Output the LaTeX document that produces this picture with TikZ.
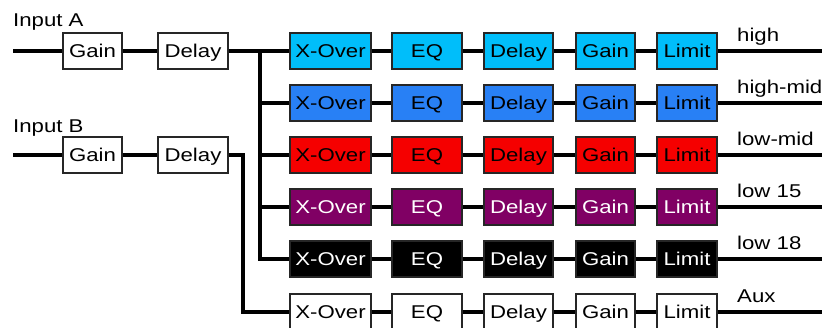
\documentclass[tikz,border=0pt]{standalone}
\usepackage{fontspec}
\setmainfont{Liberation Sans}[FakeStretch=1.2]
\definecolor{cA}{RGB}{0,190,250}
\definecolor{cB}{RGB}{40,128,245}
\definecolor{cC}{RGB}{245,0,0}
\definecolor{cD}{RGB}{128,0,100}
\definecolor{cE}{RGB}{0,0,0}
\definecolor{cF}{RGB}{255,255,255}
\begin{document}
\begin{tikzpicture}[x=1pt,y=-1pt,
  blk/.style={draw=black!85, line width=1.2pt, minimum height=36pt, inner sep=0pt,
    text height=13pt, text depth=0.5pt,
    font=\fontsize{18.5}{18.5}\selectfont},
  lbl/.style={anchor=base west, inner sep=0pt, font=\fontsize{18.5}{18.5}\selectfont},
  wire/.style={line width=3.2pt}]
\useasboundingbox (0,0) rectangle (835,328);
% inputs
\node[lbl] (la) at (13,27) {Input A};
\node[lbl] (lb) at (13,133) {Input B};
\coordinate (inA) at (13,51);
\coordinate (inB) at (13,155);
\node[blk, minimum width=59pt] (ga) at (92.5,51) {Gain};
\node[blk, minimum width=70pt] (da) at (193,51) {Delay};
\node[blk, minimum width=59pt] (gb) at (92.5,155) {Gain};
\node[blk, minimum width=70pt] (db) at (193,155) {Delay};
\draw[wire] (inA) -- (ga.west);
\draw[wire] (ga.east) -- (da.west);
\draw[wire] (inB) -- (gb.west);
\draw[wire] (gb.east) -- (db.west);
% rows
\foreach \i/\fc/\tc/\lab in {1/cA/black/high, 2/cB/black/high-mid, 3/cC/black/low-mid,
    4/cD/white/low 15, 5/cE/white/low 18, 6/cF/black/Aux}{
  \pgfmathsetmacro{\yy}{51+52*(\i-1)+(\i==6 ? 1 : 0)}
  \node[blk, fill=\fc, text=\tc, minimum width=81pt] (xo\i) at (330.5,\yy) {X-Over};
  \node[blk, fill=\fc, text=\tc, minimum width=70pt] (eq\i) at (427,\yy) {EQ};
  \node[blk, fill=\fc, text=\tc, minimum width=69pt] (de\i) at (518.5,\yy) {Delay};
  \node[blk, fill=\fc, text=\tc, minimum width=59pt] (gn\i) at (605.5,\yy) {Gain};
  \node[blk, fill=\fc, text=\tc, minimum width=60pt] (li\i) at (687,\yy) {Limit};
  \coordinate (out\i) at (822,\yy);
  \node[lbl] (ol\i) at (737,\yy-9) {\lab};
  \draw[wire] (xo\i.east) -- (eq\i.west);
  \draw[wire] (eq\i.east) -- (de\i.west);
  \draw[wire] (de\i.east) -- (gn\i.west);
  \draw[wire] (gn\i.east) -- (li\i.west);
  \draw[wire] (li\i.east) -- (out\i);
}
% buses
\coordinate (busA) at (260,51);
\coordinate (busB) at (243,155);
\draw[wire] (da.east) -- (xo1.west);
\foreach \i in {2,...,5}{
  \draw[wire] (busA) |- (xo\i.west);
}
\draw[wire] (db.east) -- (busB) |- (xo6.west);
\end{tikzpicture}
\end{document}
